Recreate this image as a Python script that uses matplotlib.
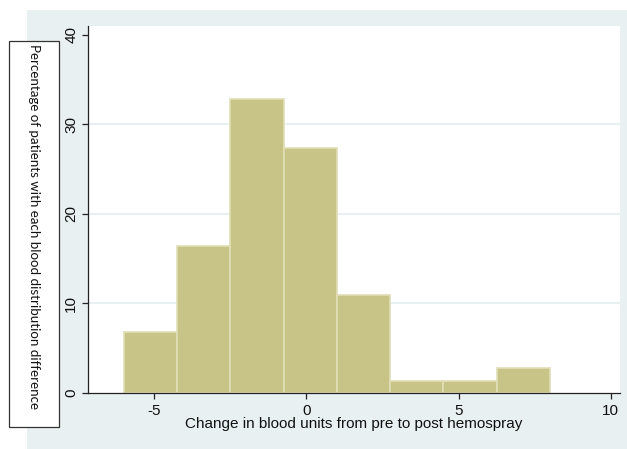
import matplotlib
matplotlib.use("Agg")
import matplotlib.pyplot as plt
from matplotlib.patches import Rectangle

plt.rcParams["axes.unicode_minus"] = False

# histogram: bin edges (width 1.75) and percentage of patients per bin
bin_edges = [-6, -4.25, -2.5, -0.75, 1, 2.75, 4.5, 6.25, 8]
percentages = [6.85, 16.44, 32.88, 27.40, 10.96, 1.37, 1.37, 2.74]
x_ticks = [-5, 0, 5, 10]
y_ticks = [0, 10, 20, 30, 40]

bg = "#E9F0F2"
bar_color = "#C8C387"

fig = plt.figure(figsize=(6.27, 4.49), dpi=100)
W, H = 627, 449

# outer graph region
fig.patches.append(Rectangle((27 / W, 0), 1 - 27 / W, 1 - 10 / H, transform=fig.transFigure,
                             facecolor=bg, edgecolor="none", zorder=-1))

ax = fig.add_axes([88 / W, 56 / H, (620 - 88) / W, (393 - 26) / H])
ax.set_zorder(2)
ax.set_facecolor("white")

widths = [bin_edges[i + 1] - bin_edges[i] for i in range(len(percentages))]
ax.bar(bin_edges[:-1], percentages, width=widths, align="edge",
       color=bar_color, edgecolor="#E2DEB6", linewidth=1.2, zorder=2)

ax.set_xlim(-7.17, 10.3)
ax.set_ylim(0, 41.0)
ax.set_xticks(x_ticks)
ax.set_yticks(y_ticks)
for v in y_ticks[1:-1]:
    ax.axhline(v, color=bg, linewidth=1.5, zorder=1)

for s in ["top", "right"]:
    ax.spines[s].set_visible(False)
for s in ["left", "bottom"]:
    ax.spines[s].set_color("#222222")
    ax.spines[s].set_linewidth(0.9)

ax.tick_params(axis="both", direction="out", length=4, width=0.9, color="#222222",
               labelsize=11, labelcolor="#111111")
ax.tick_params(axis="x", pad=4)
ax.tick_params(axis="y", pad=3)
for lab in ax.get_yticklabels():
    lab.set_rotation(90)
    lab.set_va("center")
for lab in ax.get_xticklabels() + ax.get_yticklabels():
    lab.set_family("Liberation Sans")

ax.set_xlabel("Change in blood units from pre to post hemospray", family="Liberation Sans",
              fontsize=11, color="#111111", labelpad=-1)

# boxed y label on the left
fig.patches.append(Rectangle((9 / W, 1 - 427 / H), 50 / W, (427 - 41) / H, transform=fig.transFigure,
                             facecolor="white", edgecolor="#333333", linewidth=0.9, zorder=3))
fig.text(34 / W, 1 - 227 / H, "Percentage of patients with each blood distribution difference",
         rotation=-90, ha="center", va="center", family="Lato", fontsize=9.6, color="#111111",
         zorder=4)

plt.savefig("out.png", dpi=100)
plt.close()
